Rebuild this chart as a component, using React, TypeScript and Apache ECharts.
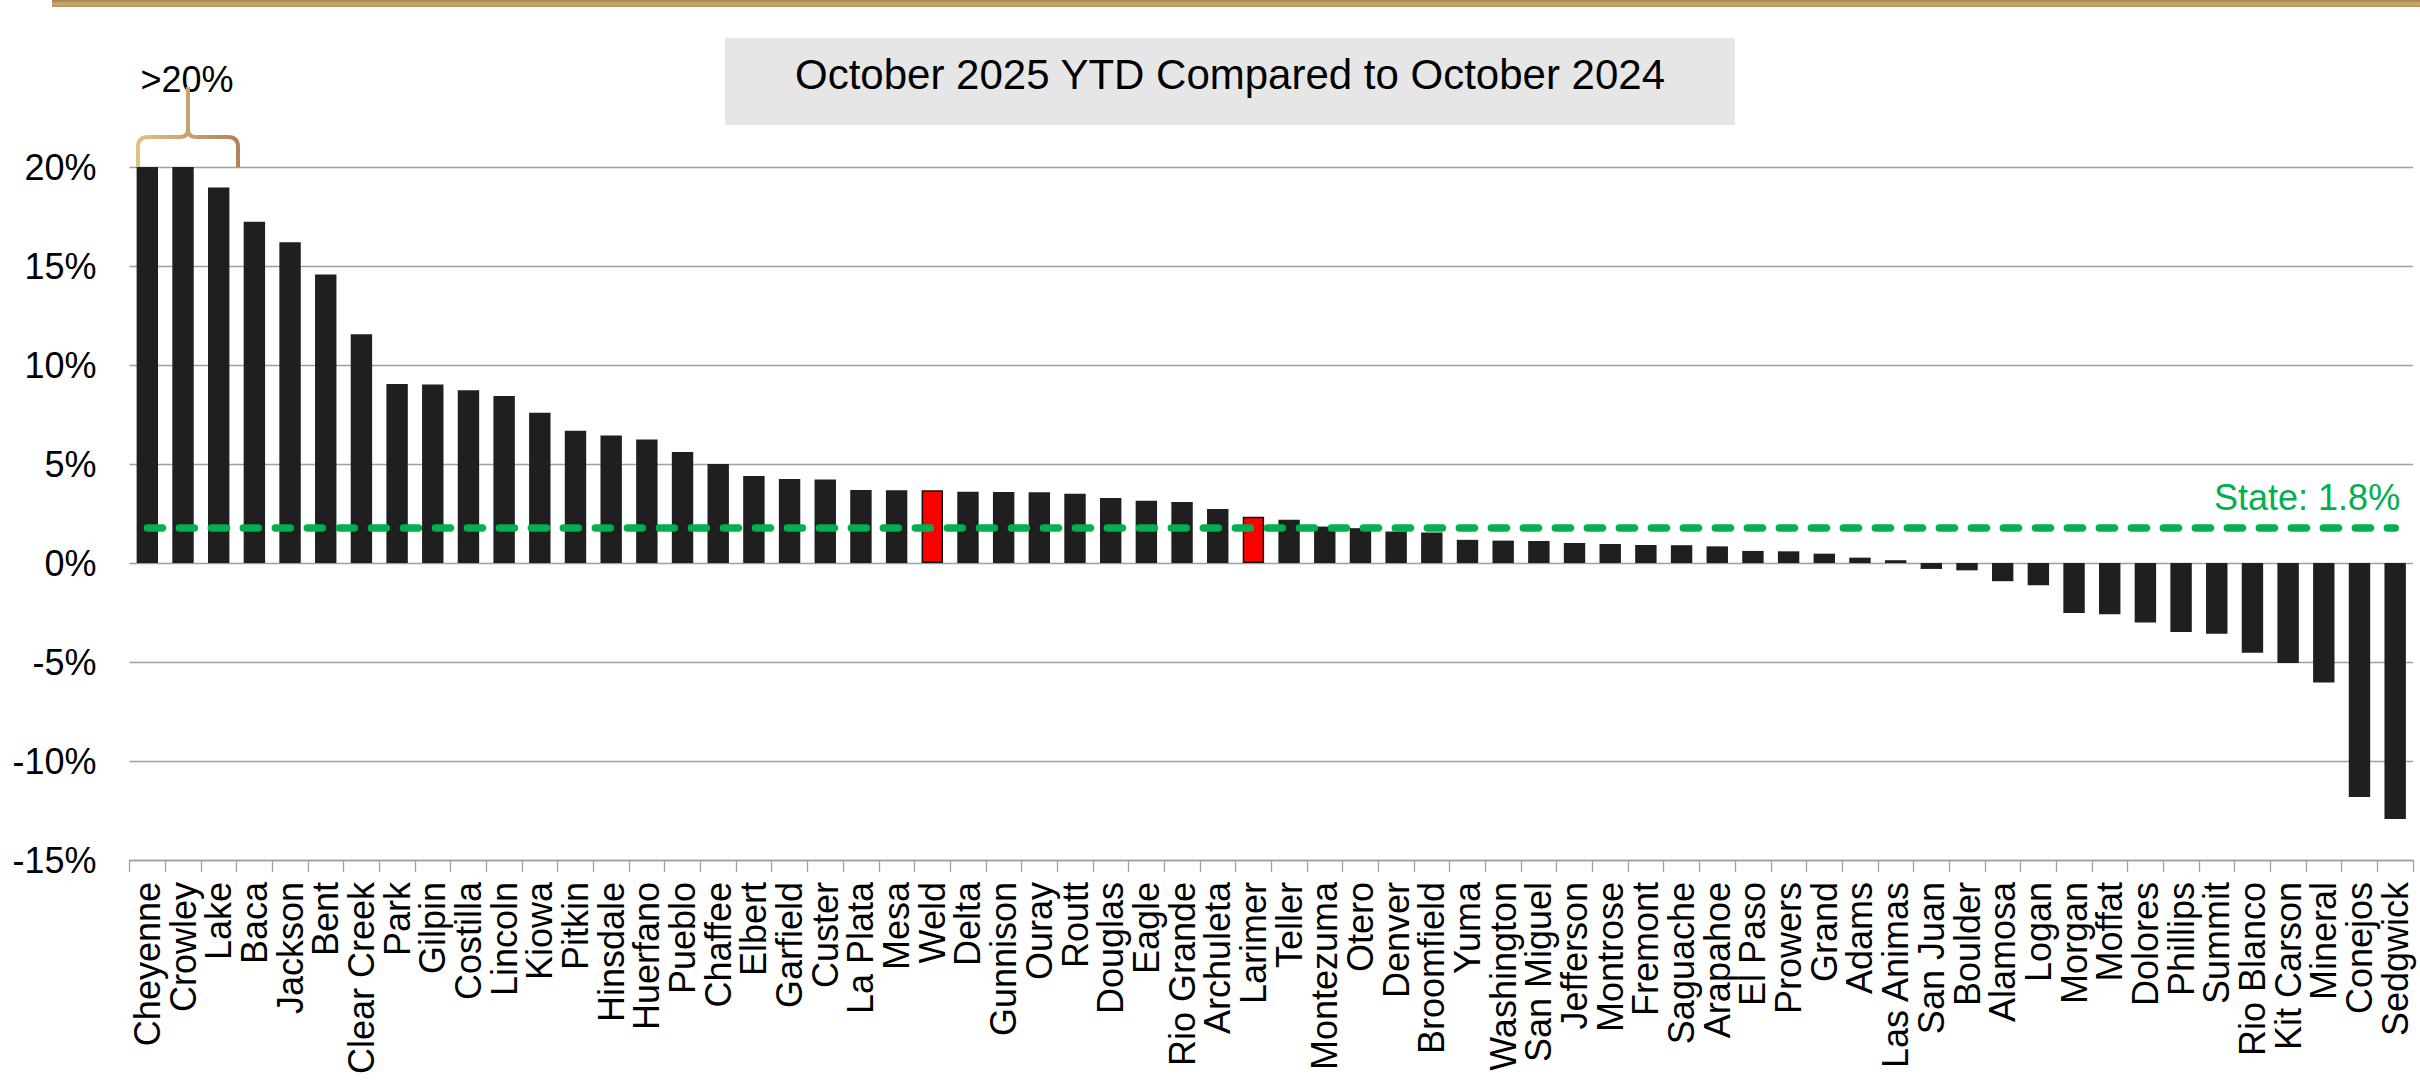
import React, { useEffect, useRef } from "react";
import * as echarts from "echarts";

const FONT = '"Liberation Sans", Arial, sans-serif';

const titleText = "October 2025 YTD Compared to October 2024";
const overflowLabel = ">20%";
const stateValue = 1.8;
const stateLabel = `State: ${stateValue}%`;

const counties = [
  "Cheyenne", "Crowley", "Lake", "Baca", "Jackson", "Bent", "Clear Creek", "Park",
  "Gilpin", "Costilla", "Lincoln", "Kiowa", "Pitkin", "Hinsdale", "Huerfano", "Pueblo",
  "Chaffee", "Elbert", "Garfield", "Custer", "La Plata", "Mesa", "Weld", "Delta",
  "Gunnison", "Ouray", "Routt", "Douglas", "Eagle", "Rio Grande", "Archuleta", "Larimer",
  "Teller", "Montezuma", "Otero", "Denver", "Broomfield", "Yuma", "Washington", "San Miguel",
  "Jefferson", "Montrose", "Fremont", "Saguache", "Arapahoe", "El Paso", "Prowers", "Grand",
  "Adams", "Las Animas", "San Juan", "Boulder", "Alamosa", "Logan", "Morgan", "Moffat",
  "Dolores", "Phillips", "Summit", "Rio Blanco", "Kit Carson", "Mineral", "Conejos", "Sedgwick",
];

// percent change, YTD Oct 2025 vs Oct 2024 (Cheyenne & Crowley are >20%, drawn capped at 20)
const changePct = [
  20, 20, 18.97, 17.23, 16.2, 14.57, 11.55, 9.04,
  9.02, 8.73, 8.44, 7.59, 6.68, 6.44, 6.24, 5.6,
  5.0, 4.39, 4.24, 4.22, 3.69, 3.67, 3.67, 3.6,
  3.59, 3.57, 3.5, 3.28, 3.15, 3.08, 2.73, 2.34,
  2.19, 1.84, 1.76, 1.59, 1.54, 1.17, 1.13, 1.11,
  1.01, 0.96, 0.91, 0.9, 0.84, 0.61, 0.59, 0.47,
  0.27, 0.14, -0.3, -0.37, -0.92, -1.13, -2.52, -2.59,
  -3.0, -3.48, -3.57, -4.53, -5.05, -6.04, -11.82, -12.93,
];

const highlighted = ["Weld", "Larimer"];

const yMin = -15;
const yMax = 20;
const yStep = 5;

echarts.graphic.registerShape(
  "brace",
  echarts.graphic.extendPath(
    "M0 80 L0 60 Q0 50 10 50 L42 50 Q50 50 50 42 L50 0 M50 42 Q50 50 58 50 L90 50 Q100 50 100 60 L100 80",
    {}
  )
);

export default function App() {
  const ref = useRef<HTMLDivElement>(null);

  useEffect(() => {
    document.body.style.margin = "0";
    const el = ref.current;
    if (!el) return;
    const chart = echarts.init(el, null, { renderer: "svg" });

    const gridColor = "#a0a0a0";
    const goldGrad = new echarts.graphic.LinearGradient(0, 0, 0, 1, [
      { offset: 0, color: "#a47d4b" },
      { offset: 0.5, color: "#cba86e" },
      { offset: 1, color: "#b8925f" },
    ]);
    const braceGrad = new echarts.graphic.LinearGradient(0, 0, 1, 0, [
      { offset: 0, color: "#dcc284" },
      { offset: 1, color: "#b2845a" },
    ]);

    chart.setOption({
      animation: false,
      backgroundColor: "#ffffff",
      grid: { left: 129.5, right: 7, top: 167, bottom: 221, containLabel: false },
      xAxis: [
        {
          type: "category",
          data: counties,
          position: "bottom",
          axisLine: { show: false },
          axisTick: { show: false },
          splitLine: { show: false },
          axisLabel: {
            interval: 0,
            rotate: 90,
            fontSize: 36,
            color: "#000",
            fontFamily: FONT,
            margin: 22,
          },
        },
        {
          type: "category",
          data: counties,
          position: "bottom",
          axisLine: { show: true, onZero: true, lineStyle: { color: gridColor, width: 1.3 } },
          axisTick: { show: true, length: 12, interval: 0, lineStyle: { color: gridColor, width: 1.3 } },
          axisLabel: { show: false },
          splitLine: { show: false },
        },
      ],
      yAxis: {
        type: "value",
        min: yMin,
        max: yMax,
        interval: yStep,
        axisLine: { show: false },
        axisTick: { show: false },
        axisLabel: {
          formatter: "{value}%",
          fontSize: 36,
          color: "#000",
          fontFamily: FONT,
          margin: 33,
        },
        splitLine: { lineStyle: { color: gridColor, width: 1.3 } },
      },
      series: [
        {
          type: "bar",
          xAxisIndex: 0,
          barWidth: "60%",
          z: 2,
          data: counties.map((c, i) => ({
            value: changePct[i],
            itemStyle: highlighted.includes(c)
              ? { color: "#ff0000", borderColor: "#111", borderWidth: 1.5 }
              : { color: "#1f1f1f" },
          })),
          markLine: {
            silent: true,
            symbol: ["none", "none"],
            z: 5,
            lineStyle: { color: "#00b050", width: 7.5, type: [15, 17], cap: "round", opacity: 1 },
            emphasis: { disabled: true },
            label: {
              show: true,
              position: "insideEndTop",
              formatter: stateLabel,
              fontSize: 36,
              fontFamily: FONT,
              color: "#00b050",
              distance: [-5, 12],
            },
            data: [
              [
                { xAxis: counties[0], yAxis: stateValue },
                { xAxis: counties[counties.length - 1], yAxis: stateValue },
              ],
            ],
          },
        },
      ],
      graphic: [
        {
          type: "rect",
          shape: { x: 52, y: 0, width: 2368, height: 7 },
          style: { fill: goldGrad },
          z: 10,
        },
        {
          type: "rect",
          shape: { x: 725, y: 38, width: 1010, height: 87 },
          style: { fill: "#e6e6e6" },
          z: 10,
        },
        {
          type: "text",
          x: 1230,
          y: 74,
          z: 11,
          style: {
            text: titleText,
            font: `42px ${FONT}`,
            fill: "#000",
            textAlign: "center",
            textVerticalAlign: "middle",
            align: "center",
            verticalAlign: "middle",
          },
        },
        {
          type: "text",
          x: 187,
          y: 79.5,
          z: 11,
          style: {
            text: overflowLabel,
            font: `36px ${FONT}`,
            fill: "#000",
            textAlign: "center",
            textVerticalAlign: "middle",
            align: "center",
            verticalAlign: "middle",
          },
        },
        {
          type: "brace",
          x: 138,
          y: 87,
          z: 12,
          style: { stroke: braceGrad, fill: "none", lineWidth: 4, lineJoin: "round", lineCap: "butt" },
        },
      ],
    });

    return () => {
      chart.dispose();
    };
  }, []);

  return <div ref={ref} style={{ width: 2420, height: 1081 }} />;
}
